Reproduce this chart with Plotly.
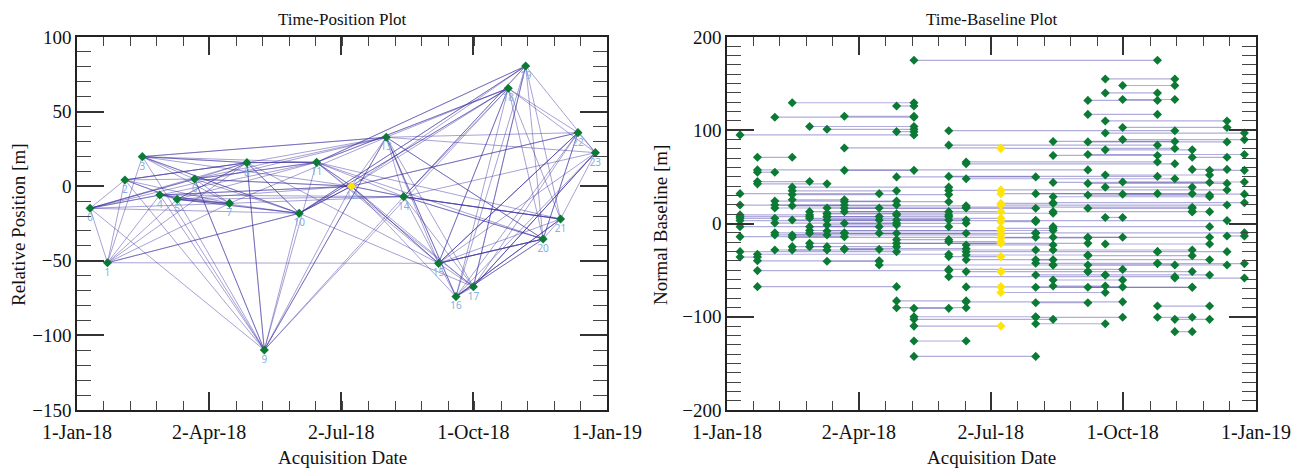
import pandas as pd
import plotly.graph_objects as go

# Acquisition dates (12-day revisit) and relative orbital position of each scene
acq_dates = [
    "2018-01-10", "2018-01-22", "2018-02-03", "2018-02-15", "2018-02-27", "2018-03-11",
    "2018-03-23", "2018-04-16", "2018-04-28", "2018-05-10", "2018-06-03", "2018-06-15",
    "2018-07-09", "2018-08-02", "2018-08-14", "2018-09-07", "2018-09-19", "2018-10-01",
    "2018-10-25", "2018-11-06", "2018-11-18", "2018-11-30", "2018-12-12", "2018-12-24",
]
rel_position = [
    -14.8, -51.3, 4.2, 19.8, -5.9, -8.8, 4.8, -11.5, 15.8, -109.8, -18.2, 16.0,
    0.0, 32.8, -7.0, -51.7, -74.0, -67.4, 65.6, 80.6, -35.4, -22.0, 35.9, 22.5,
]
ref_index = 12  # super-master scene

# Interferometric pairs: first scene index, second scene index, normal baseline [m]
ifg_start = [
    9, 16, 17, 16, 15, 17, 3, 8, 15, 2, 6, 16, 4, 17, 5, 10, 8, 16, 0, 17,
    14, 15, 10, 6, 12, 16, 15, 14, 1, 20, 11, 11, 1, 6, 20, 21, 1, 16, 8, 10,
    11, 1, 1, 14, 15, 17, 3, 16, 3, 10, 12, 0, 3, 12, 13, 15, 17, 14, 2, 3,
    6, 14, 12, 0, 2, 3, 12, 2, 5, 6, 15, 11, 4, 5, 6, 14, 20, 5, 0, 8,
    0, 5, 5, 16, 0, 4, 3, 5, 8, 0, 13, 12, 6, 2, 5, 0, 4, 14, 12, 4,
    5, 2, 4, 6, 7, 13, 22, 2, 3, 0, 3, 14, 15, 12, 8, 10, 4, 8, 16, 11,
    3, 4, 6, 6, 2, 3, 14, 0, 11, 18, 1, 11, 15, 0, 10, 13, 11, 1, 5, 13,
    18, 7, 14, 15, 10, 1, 11, 12, 15, 13, 16, 10, 19, 14, 1, 11, 12, 13, 14, 15,
    12, 8, 11, 13, 18, 8, 9, 9, 13, 18, 9, 19, 13, 9, 19, 9, 9,
]
ifg_end = [
    18, 19, 19, 18, 18, 19, 9, 9, 18, 9, 9, 22, 9, 22, 9, 19, 9, 23, 9, 23,
    19, 22, 18, 12, 19, 20, 23, 18, 3, 22, 18, 19, 15, 9, 22, 23, 2, 21, 13, 18,
    19, 4, 5, 21, 22, 23, 10, 20, 8, 12, 22, 7, 10, 18, 20, 21, 23, 21, 8, 6,
    10, 23, 14, 6, 8, 11, 22, 7, 11, 13, 20, 20, 10, 8, 12, 20, 21, 14, 4, 10,
    4, 10, 7, 17, 2, 12, 7, 10, 11, 13, 22, 13, 11, 8, 8, 10, 7, 21, 14, 14,
    12, 6, 11, 8, 13, 23, 23, 5, 12, 6, 13, 21, 17, 15, 10, 12, 12, 15, 21, 14,
    8, 5, 11, 7, 5, 13, 20, 8, 18, 22, 10, 15, 20, 1, 12, 14, 21, 7, 7, 18,
    23, 14, 19, 22, 17, 10, 12, 15, 20, 16, 21, 19, 23, 17, 8, 12, 17, 20, 16, 20,
    16, 11, 17, 15, 21, 11, 10, 13, 17, 20, 14, 21, 16, 12, 20, 11, 13,
]
ifg_bperp = [
    175, 155, 148, 140, 132, 133, 129.5, 126, 117, 114, 115, 110, 104, 103, 101, 99.5, 98.5, 97, 95, 90,
    88, 87.5, 84, 81, 80.5, 79, 74, 73, 71, 71, 66, 64, 57.5, 57, 58, 57, 55, 52, 50, 50.5,
    48, 45, 42.5, 44, 43, 44.5, 39, 39, 35, 35.5, 36, 32, 31, 32, 32, 30.5, 31.5, 28.7, 24, 25.4,
    23.4, 22.3, 21.5, 19.8, 19.8, 19, 19.8, 16.6, 16.6, 16.3, 16.3, 17.5, 12.7, 10.4, 12.7, 12.7, 12.7, 11, 9.2, 9.2,
    7.3, 7.3, 7.4, 6.5, 5.6, 5.6, 3.8, 3.8, 3.8, 3.1, 3.1, 2, 0.2, 0.5, -1.5, -3.4, -3.4, -3.4, -5.2, -7.5,
    -8, -10, -10.5, -10.5, -10.5, -10, -13.4, -12.3, -12.3, -14.1, -14.8, -14.8, -14.8, -15.5, -17.3, -19.5, -21.3, -21.3, -22, -23,
    -24.8, -24.8, -27, -27.7, -28.4, -28.4, -28.4, -30.2, -30.2, -30.2, -33, -33.8, -34.5, -36, -35.5, -39, -38.8, -40, -40.5, -42.7,
    -43, -44.5, -44.5, -44.5, -49.2, -50.5, -51.6, -51.6, -51.6, -55.2, -55.2, -57, -58.5, -60.6, -67.7, -68, -68, -68.4, -67, -68.4,
    -74, -83, -84, -85, -88.5, -90.3, -91, -100, -100.6, -100.6, -102.8, -102.8, -107.5, -110, -116, -126, -142.5,
]

dates = pd.to_datetime(acq_dates)

SERIF = "Liberation Serif, Times New Roman, serif"
EDGE_LEFT = "rgba(60, 48, 160, 0.45)"
EDGE_RIGHT = "rgba(70, 60, 170, 0.42)"
GREEN = "#0b7a35"
YELLOW = "#ffe40a"
LABEL_BLUE = "#86aee0"

fig = go.Figure()

# ---- Time-Position network ----
ex, ey = [], []
for a, b in zip(ifg_start, ifg_end):
    ex += [dates[a], dates[b], None]
    ey += [rel_position[a], rel_position[b], None]
fig.add_trace(go.Scatter(x=ex, y=ey, mode="lines", xaxis="x", yaxis="y",
                         line=dict(color=EDGE_LEFT, width=1), hoverinfo="skip",
                         showlegend=False))

node_colors = [YELLOW if i == ref_index else GREEN for i in range(len(acq_dates))]
fig.add_trace(go.Scatter(x=dates, y=rel_position, mode="markers+text", xaxis="x", yaxis="y",
                         marker=dict(symbol="diamond", size=7, color=node_colors),
                         text=[str(i) for i in range(len(acq_dates))],
                         textposition="bottom center",
                         textfont=dict(family="Noto Sans, sans-serif", size=10, color=LABEL_BLUE),
                         showlegend=False))

# ---- Time-Baseline pairs ----
bx, by, mx, my, mc = [], [], [], [], []
for a, b, v in zip(ifg_start, ifg_end, ifg_bperp):
    bx += [dates[a], dates[b], None]
    by += [v, v, None]
    for k in (a, b):
        mx.append(dates[k])
        my.append(v)
        mc.append(YELLOW if k == ref_index else GREEN)
fig.add_trace(go.Scatter(x=bx, y=by, mode="lines", xaxis="x2", yaxis="y2",
                         line=dict(color=EDGE_RIGHT, width=1.2), hoverinfo="skip",
                         showlegend=False))
fig.add_trace(go.Scatter(x=mx, y=my, mode="markers", xaxis="x2", yaxis="y2",
                         marker=dict(symbol="diamond", size=7, color=mc),
                         showlegend=False))

tick_dates = ["2018-01-01", "2018-04-02", "2018-07-02", "2018-10-01", "2019-01-01"]
tick_text = ["1-Jan-18", "2-Apr-18", "2-Jul-18", "1-Oct-18", "1-Jan-19"]
DAY_MS = 86400000


def xaxis_style(domain, anchor):
    return dict(
        domain=domain, anchor=anchor, type="date", automargin=False,
        range=["2018-01-01", "2019-01-01"],
        tickmode="array", tickvals=tick_dates, ticktext=tick_text,
        ticks="inside", ticklen=18, tickwidth=1.5, tickcolor="#333",
        ticklabelstandoff=3,
        minor=dict(ticks="inside", ticklen=9, tickwidth=1.3, tickcolor="#444",
                   tick0="2018-01-01", dtick=18.25 * DAY_MS, showgrid=False),
        showline=True, linecolor="#222", linewidth=1.6, mirror="allticks",
        showgrid=False, zeroline=False,
        tickfont=dict(family=SERIF, size=20, color="#111"),
    )


def yaxis_style(domain, anchor, rng, major):
    return dict(
        domain=domain, anchor=anchor, range=rng, automargin=False,
        tickmode="linear", tick0=0, dtick=major,
        ticks="inside", ticklen=27, tickwidth=1.5, tickcolor="#333",
        minor=dict(ticks="inside", ticklen=14, tickwidth=1.3, tickcolor="#444",
                   dtick=10, showgrid=False),
        showline=True, linecolor="#222", linewidth=1.6, mirror="allticks",
        showgrid=False, zeroline=False,
        tickfont=dict(family=SERIF, size=19, color="#111"),
    )


def label(text, x, y, size, angle=0):
    return dict(text=text, x=x / W, y=1 - y / H, xref="paper", yref="paper",
                xanchor="center", yanchor="middle", showarrow=False, textangle=angle,
                font=dict(family=SERIF, size=size, color="#111"))


W, H = 1304, 469
yd = [(H - 410) / H, (H - 37) / H]
fig.update_layout(
    width=W, height=H,
    margin=dict(l=0, r=0, t=0, b=0, autoexpand=False),
    paper_bgcolor="white", plot_bgcolor="white",
    font=dict(family=SERIF, color="#111"),
    xaxis=xaxis_style([77 / W, 607 / W], "y"),
    yaxis=yaxis_style(yd, "x", [-150, 100], 50),
    xaxis2=xaxis_style([727 / W, 1256 / W], "y2"),
    yaxis2=yaxis_style(yd, "x2", [-200, 200], 100),
    annotations=[
        label("Time-Position Plot", (77 + 607) / 2, 20, 17),
        label("Time-Baseline Plot", (727 + 1256) / 2, 20, 17),
        label("Acquisition Date", (77 + 607) / 2, 457, 19),
        label("Acquisition Date", (727 + 1256) / 2, 457, 19),
        label("Relative Position [m]", 18, 225, 19, -90),
        label("Normal Baseline [m]", 660, 225, 19, -90),
    ],
)

fig.write_html("out.html")
